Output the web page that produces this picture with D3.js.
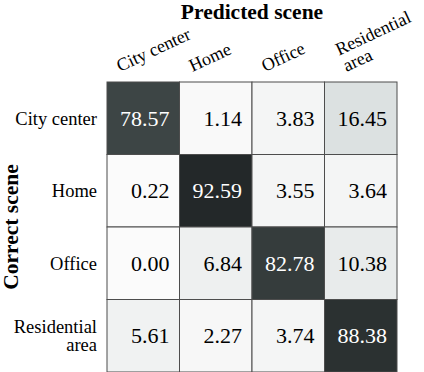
<!DOCTYPE html>
<html>
<head>
<meta charset="utf-8">
<script src="https://cdn.jsdelivr.net/npm/d3@7"></script>
</head>
<body style="margin:0;padding:0;background:#fff">
<div id="chart"></div>
<script>
// scene labels (same order for rows and columns)
const scenes = ['City center', 'Home', 'Office', 'Residential area'];
// row = correct scene, col = predicted scene (%)
const cityRow = [78.57, 1.14, 3.83, 16.45];
const homeRow = [0.22, 92.59, 3.55, 3.64];
const officeRow = [0.00, 6.84, 82.78, 10.38];
const residentialRow = [5.61, 2.27, 3.74, 88.38];
const rows = [cityRow, homeRow, officeRow, residentialRow];

const width = 424;
const height = 372;
const margin = { top: 82, right: 27, bottom: 1, left: 107 };
const size = 290;
const FONT = 'Liberation Serif';

const svg = d3.select('#chart')
    .append('svg')
    .attr('width', width)
    .attr('height', height)
    .style('display', 'block')
    .attr('font-family', FONT);

const g = svg.append('g')
    .attr('transform', `translate(${margin.left}, ${margin.top})`);

const x = d3.scaleBand().domain(scenes).range([0, size]);
const y = d3.scaleBand().domain(scenes).range([0, size]);

// greyish colour map, slightly green-blue tinted
const color = d3.scaleLinear()
    .domain([0, 16, 78, 100])
    .range(['#fbfbfb', '#dde2e2', '#3e4646', '#15191a'])
    .clamp(true);

const cells = [];
rows.forEach((r, i) => r.forEach((v, j) => cells.push({ row: scenes[i], col: scenes[j], value: v })));

// cells
g.selectAll('.cell')
    .data(cells)
    .enter()
    .append('rect')
    .attr('x', d => x(d.col))
    .attr('y', d => y(d.row))
    .attr('width', x.bandwidth())
    .attr('height', y.bandwidth())
    .attr('fill', d => color(d.value))
    .attr('stroke', '#4d4d4d')
    .attr('stroke-width', 1);

// values, right aligned in each cell
g.selectAll('.val')
    .data(cells)
    .enter()
    .append('text')
    .attr('x', d => x(d.col) + x.bandwidth() - 10)
    .attr('y', d => y(d.row) + y.bandwidth() / 2)
    .attr('dy', '0.35em')
    .attr('text-anchor', 'end')
    .attr('font-family', FONT)
    .attr('font-size', 22)
    .attr('fill', d => d.value > 50 ? '#fff' : '#000')
    .text(d => d.value.toFixed(2));

// row labels (correct scene)
const rowLab = g.selectAll('.rowlab')
    .data(scenes)
    .enter()
    .append('text')
    .attr('text-anchor', 'end')
    .attr('font-family', FONT)
    .attr('font-size', 18.5)
    .attr('transform', d => `translate(-10, ${y(d) + y.bandwidth() / 2})`);

rowLab.each(function (d) {
    const words = d === 'Residential area' ? ['Residential', 'area'] : [d];
    const t = d3.select(this);
    words.forEach((w, i) => {
        t.append('tspan')
            .attr('x', 0)
            .attr('y', (i - (words.length - 1) / 2) * 18)
            .attr('dy', '0.35em')
            .text(w);
    });
});

// column labels (predicted scene), rotated
const colLab = g.selectAll('.collab')
    .data(scenes)
    .enter()
    .append('text')
    .attr('font-family', FONT)
    .attr('font-size', 18)
    .attr('transform', d => {
        const extra = d === 'Residential area' ? 22 : 13;
        return `translate(${x(d) + extra}, -10) rotate(-25)`;
    });

colLab.each(function (d) {
    const words = d === 'Residential area' ? ['Residential', 'area'] : [d];
    const t = d3.select(this);
    words.forEach((w, i) => {
        t.append('tspan')
            .attr('x', 0)
            .attr('y', (i - (words.length - 1)) * 18)
            .text(w);
    });
});

// axis titles
svg.append('text')
    .attr('x', margin.left + size / 2)
    .attr('y', 19)
    .attr('text-anchor', 'middle')
    .attr('font-family', FONT)
    .attr('font-size', 21.5)
    .attr('font-weight', 'bold')
    .text('Predicted scene');

svg.append('text')
    .attr('transform', `translate(18, ${margin.top + size / 2}) rotate(-90)`)
    .attr('text-anchor', 'middle')
    .attr('font-family', FONT)
    .attr('font-size', 21.5)
    .attr('font-weight', 'bold')
    .text('Correct scene');
</script>
</body>
</html>
